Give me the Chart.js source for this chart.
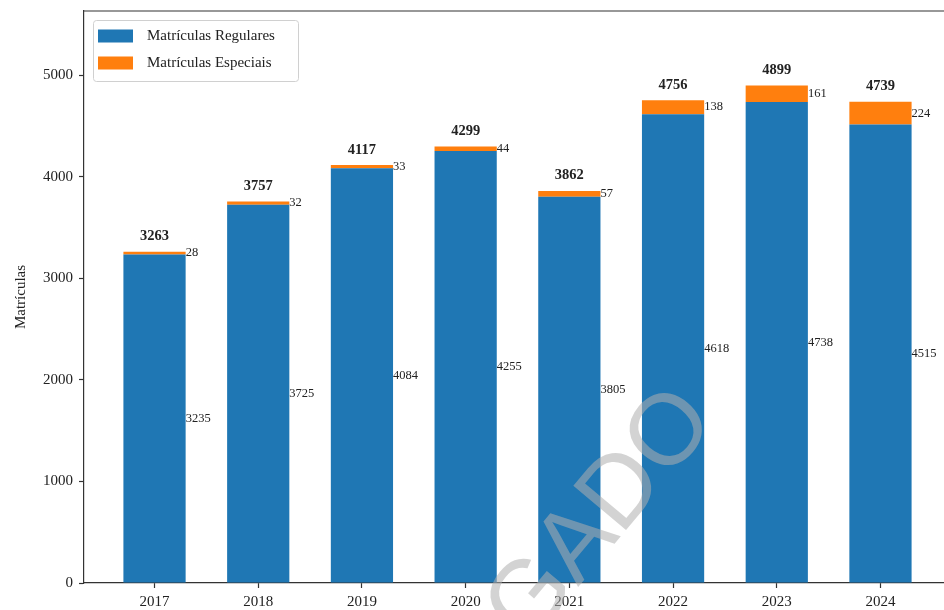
<!DOCTYPE html>
<html>
<head>
<meta charset="utf-8">
<script src="https://cdn.jsdelivr.net/npm/chart.js@4/dist/chart.umd.min.js"></script>
<style>
html,body{margin:0;padding:0;overflow:hidden;background:#fff;}
#wrap{position:relative;width:951px;height:610px;}
</style>
</head>
<body>
<div id="wrap"><canvas id="c"></canvas></div>
<script>
const years = ['2017','2018','2019','2020','2021','2022','2023','2024'];
const regulares = [3235, 3725, 4084, 4255, 3805, 4618, 4738, 4515];
const especiais = [28, 32, 33, 44, 57, 138, 161, 224];
const yTicks = [0, 1000, 2000, 3000, 4000, 5000];
const seriesLabels = ['Matrículas Regulares', 'Matrículas Especiais'];
const yTitle = 'Matrículas';
const watermark = 'GADO';

const totals = regulares.map((v, i) => v + especiais[i]);
const SERIF = '"Liberation Serif", "Times New Roman", serif';
const TXT = '#222';
const AX = '#333';

const labelsPlugin = {
  id: 'labels',
  afterDatasetsDraw(chart) {
    const ctx = chart.ctx;
    const y = chart.scales.y;
    const m0 = chart.getDatasetMeta(0);
    ctx.save();
    years.forEach((yr, i) => {
      const b = m0.data[i];
      const right = b.x + b.width / 2;
      ctx.fillStyle = TXT;
      ctx.font = '12.5px ' + SERIF;
      ctx.textAlign = 'left';
      ctx.textBaseline = 'middle';
      ctx.fillText(String(regulares[i]), right, y.getPixelForValue(regulares[i] / 2));
      ctx.fillText(String(especiais[i]), right, y.getPixelForValue(regulares[i] + especiais[i] / 2));
      ctx.font = 'bold 14.5px ' + SERIF;
      ctx.textAlign = 'center';
      ctx.textBaseline = 'alphabetic';
      ctx.fillText(String(totals[i]), b.x, y.getPixelForValue(totals[i]) - 11.5);
    });
    ctx.restore();
  },
  afterDraw(chart) {
    const ctx = chart.ctx;
    const a = chart.chartArea;
    ctx.save();
    ctx.strokeStyle = AX;
    ctx.lineWidth = 1.2;
    ctx.beginPath();
    ctx.moveTo(a.left, a.top);
    ctx.lineTo(a.right, a.top);
    ctx.lineTo(a.right, a.bottom);
    ctx.stroke();
    // legend
    const bx = 93, by = 20, bw = 205, bh = 61, r = 3;
    ctx.fillStyle = 'rgba(255,255,255,0.8)';
    ctx.strokeStyle = '#d0d0d0';
    ctx.lineWidth = 1;
    ctx.beginPath();
    ctx.roundRect(bx + 0.5, by + 0.5, bw, bh, r);
    ctx.fill();
    ctx.stroke();
    const ds = chart.data.datasets;
    const rows = [36, 63];
    ds.forEach((d, k) => {
      ctx.fillStyle = d.backgroundColor;
      ctx.fillRect(98, rows[k] - 6.5, 35, 13);
      ctx.fillStyle = TXT;
      ctx.font = '15px ' + SERIF;
      ctx.textAlign = 'left';
      ctx.textBaseline = 'middle';
      ctx.fillText(d.label, 147, rows[k] + 0.5);
    });
    // watermark
    const F = 100;
    ctx.translate(595, 511);
    ctx.rotate(-50 * Math.PI / 180);
    ctx.font = F + 'px "Liberation Sans", "DejaVu Sans", sans-serif';
    ctx.textAlign = 'center';
    ctx.textBaseline = 'alphabetic';
    ctx.fillStyle = 'rgba(175,175,175,0.55)';
    ctx.fillText(watermark, 0, 0.36 * F);
    ctx.restore();
  }
};

new Chart(document.getElementById('c'), {
  type: 'bar',
  data: {
    datasets: [
      {
        label: seriesLabels[0],
        data: regulares.map((v, i) => ({ x: i, y: v })),
        backgroundColor: '#1f77b4',
        borderWidth: 0,
        barPercentage: 0.6,
        categoryPercentage: 1.0
      },
      {
        label: seriesLabels[1],
        data: especiais.map((v, i) => ({ x: i, y: v })),
        backgroundColor: '#ff7f0e',
        borderWidth: 0,
        barPercentage: 0.6,
        categoryPercentage: 1.0
      }
    ]
  },
  options: {
    responsive: true,
    maintainAspectRatio: false,
    animation: false,
    layout: { padding: { top: 11, left: 0, right: 0, bottom: 0 } },
    plugins: { legend: { display: false }, tooltip: { enabled: false } },
    scales: {
      x: {
        type: 'linear',
        stacked: true,
        offset: false,
        min: -0.68,
        max: years.length - 1 + 0.68,
        afterBuildTicks: s => { s.ticks = years.map((_, i) => ({ value: i })); },
        afterFit: s => { s.height = 27; s.paddingLeft = 0; s.paddingRight = 0; },
        ticks: {
          callback: v => years[v] ?? '',
          font: { family: SERIF, size: 15 },
          color: TXT,
          padding: 5,
          maxRotation: 0,
          autoSkip: false
        },
        grid: { drawOnChartArea: false, offset: false, tickLength: 5, color: AX, tickWidth: 1.2 },
        border: { color: AX, width: 1.2 }
      },
      y: {
        stacked: true,
        min: 0,
        max: Math.max(...totals) * 1.15,
        afterBuildTicks: s => { s.ticks = yTicks.map(v => ({ value: v })); },
        afterFit: s => { s.width = 84; s.paddingTop = 0; s.paddingBottom = 0; },
        ticks: {
          callback: v => String(v),
          font: { family: SERIF, size: 15 },
          color: TXT,
          padding: 6
        },
        grid: { drawOnChartArea: false, tickLength: 5, color: AX, tickWidth: 1.2 },
        border: { color: AX, width: 1.2 },
        title: {
          display: true,
          text: yTitle,
          font: { family: SERIF, size: 15 },
          color: TXT,
          padding: { top: 12, bottom: 0 }
        }
      }
    }
  },
  plugins: [labelsPlugin]
});
</script>
</body>
</html>
